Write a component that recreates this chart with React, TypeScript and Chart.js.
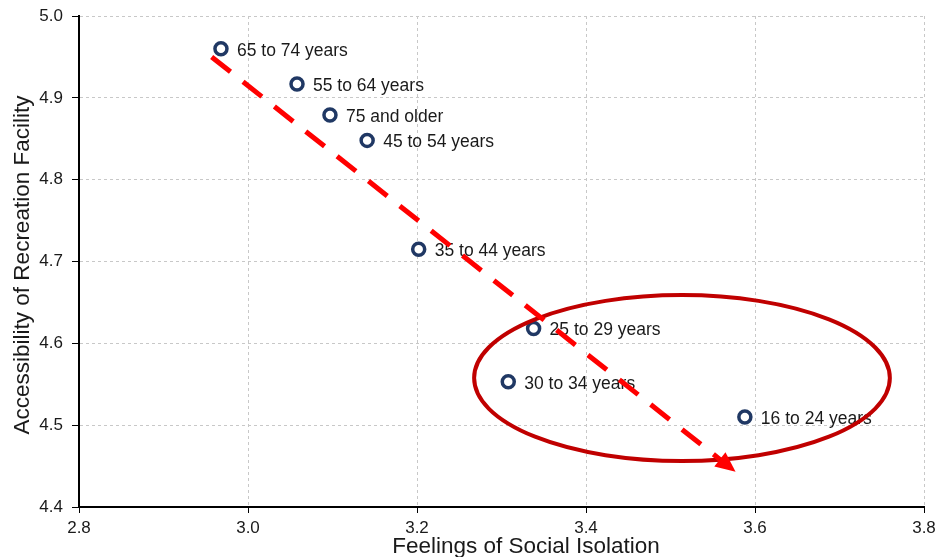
import React, { useEffect, useRef } from "react";
import { Chart, registerables } from "chart.js";

Chart.register(...registerables);

const ageGroups = [
  "65 to 74 years",
  "55 to 64 years",
  "75 and older",
  "45 to 54 years",
  "35 to 44 years",
  "25 to 29 years",
  "30 to 34 years",
  "16 to 24 years",
];
const socialIsolation = [2.968, 3.058, 3.097, 3.141, 3.202, 3.338, 3.308, 3.588];
const recreationAccess = [4.96, 4.917, 4.879, 4.848, 4.715, 4.618, 4.553, 4.51];

const xTitle = "Feelings of Social Isolation";
const yTitle = "Accessibility of Recreation Facility";
const xRange = [2.8, 3.8];
const yRange = [4.4, 5.0];

// trend arrow (data coords) and highlight ellipse (data coords)
const trendStart = [2.957, 4.95];
const trendEnd = [3.577, 4.443];
const ellipseCenter = [3.5136, 4.5576];
const ellipseRadii = [0.246, 0.1014];

const FONT = "'Liberation Sans', Arial, sans-serif";

export default function App() {
  const ref = useRef<HTMLCanvasElement | null>(null);

  useEffect(() => {
    const canvas = ref.current;
    if (!canvas) return;

    const overlay = {
      id: "overlay",
      afterDatasetsDraw(chart: any) {
        const ctx = chart.ctx;
        const meta = chart.getDatasetMeta(0);
        ctx.save();
        ctx.font = `17.5px ${FONT}`;
        ctx.fillStyle = "#1a1a1a";
        ctx.textBaseline = "middle";
        ctx.textAlign = "left";
        meta.data.forEach((el: any, i: number) => {
          ctx.fillText(ageGroups[i], el.x + 16, el.y + 2);
        });
        ctx.restore();
      },
      afterDraw(chart: any) {
        const ctx = chart.ctx;
        const xs = chart.scales.x;
        const ys = chart.scales.y;
        ctx.save();
        // ellipse
        const cx = xs.getPixelForValue(ellipseCenter[0]);
        const cy = ys.getPixelForValue(ellipseCenter[1]);
        const rx = Math.abs(xs.getPixelForValue(ellipseCenter[0] + ellipseRadii[0]) - cx);
        const ry = Math.abs(ys.getPixelForValue(ellipseCenter[1] + ellipseRadii[1]) - cy);
        ctx.beginPath();
        ctx.ellipse(cx, cy, rx, ry, 0, 0, Math.PI * 2);
        ctx.strokeStyle = "#c00000";
        ctx.lineWidth = 4;
        ctx.stroke();

        // dashed arrow
        const x1 = xs.getPixelForValue(trendStart[0]);
        const y1 = ys.getPixelForValue(trendStart[1]);
        const x2 = xs.getPixelForValue(trendEnd[0]);
        const y2 = ys.getPixelForValue(trendEnd[1]);
        const ang = Math.atan2(y2 - y1, x2 - x1);
        const headLen = 20;
        const headW = 9;
        const bx = x2 - headLen * Math.cos(ang);
        const by = y2 - headLen * Math.sin(ang);
        ctx.beginPath();
        ctx.moveTo(x1, y1);
        ctx.lineTo(bx, by);
        ctx.setLineDash([24, 16]);
        ctx.strokeStyle = "#ff0000";
        ctx.lineWidth = 5;
        ctx.stroke();
        ctx.setLineDash([]);
        ctx.beginPath();
        ctx.moveTo(x2, y2);
        ctx.lineTo(bx + headW * Math.sin(ang), by - headW * Math.cos(ang));
        ctx.lineTo(bx - headW * Math.sin(ang), by + headW * Math.cos(ang));
        ctx.closePath();
        ctx.fillStyle = "#ff0000";
        ctx.fill();

        // axis titles
        ctx.fillStyle = "#1a1a1a";
        ctx.font = `22.5px ${FONT}`;
        ctx.textAlign = "center";
        ctx.textBaseline = "middle";
        ctx.fillText(xTitle, 526, 547);
        ctx.translate(23, 265);
        ctx.rotate(-Math.PI / 2);
        ctx.fillText(yTitle, 0, 0);
        ctx.restore();
      },
    };

    const chart = new Chart(canvas, {
      type: "scatter",
      data: {
        datasets: [
          {
            data: socialIsolation.map((x, i) => ({ x, y: recreationAccess[i] })),
            pointRadius: 6,
            pointBorderWidth: 3.5,
            pointBorderColor: "#203864",
            pointBackgroundColor: "#ffffff",
          },
        ],
      },
      options: {
        animation: false,
        responsive: false,
        maintainAspectRatio: false,
        layout: { padding: { top: 16, right: 12, left: 0, bottom: 0 } },
        plugins: { legend: { display: false }, tooltip: { enabled: false }, title: { display: false } },
        scales: {
          x: {
            type: "linear",
            min: xRange[0],
            max: xRange[1],
            afterFit: (s: any) => {
              s.height = 50;
              s.paddingLeft = 0;
              s.paddingRight = 0;
            },
            ticks: {
              stepSize: 0.2,
              color: "#1a1a1a",
              font: { family: FONT, size: 17 },
              padding: 5,
              callback: (v: any) => Number(v).toFixed(1),
            },
            grid: { color: "#c8c8c8", lineWidth: 1, tickColor: "#000", tickLength: 6, tickBorderDash: [] },
            border: { display: true, color: "#000", width: 2, dash: [3, 3] },
          },
          y: {
            type: "linear",
            min: yRange[0],
            max: yRange[1],
            afterFit: (s: any) => {
              s.width = 79;
              s.paddingTop = 0;
              s.paddingBottom = 0;
            },
            ticks: {
              stepSize: 0.1,
              color: "#1a1a1a",
              font: { family: FONT, size: 17 },
              padding: 9,
              callback: (v: any) => Number(v).toFixed(1),
            },
            grid: { color: "#c8c8c8", lineWidth: 1, tickColor: "#000", tickLength: 7, tickBorderDash: [] },
            border: { display: true, color: "#000", width: 2, dash: [3, 3] },
          },
        },
      },
      plugins: [overlay],
    } as any);

    return () => chart.destroy();
  }, []);

  return (
    <div style={{ position: "fixed", left: 0, top: 0, width: 936, height: 557, background: "#fff" }}>
      <canvas ref={ref} width={936} height={557} style={{ width: 936, height: 557, display: "block" }} />
    </div>
  );
}
